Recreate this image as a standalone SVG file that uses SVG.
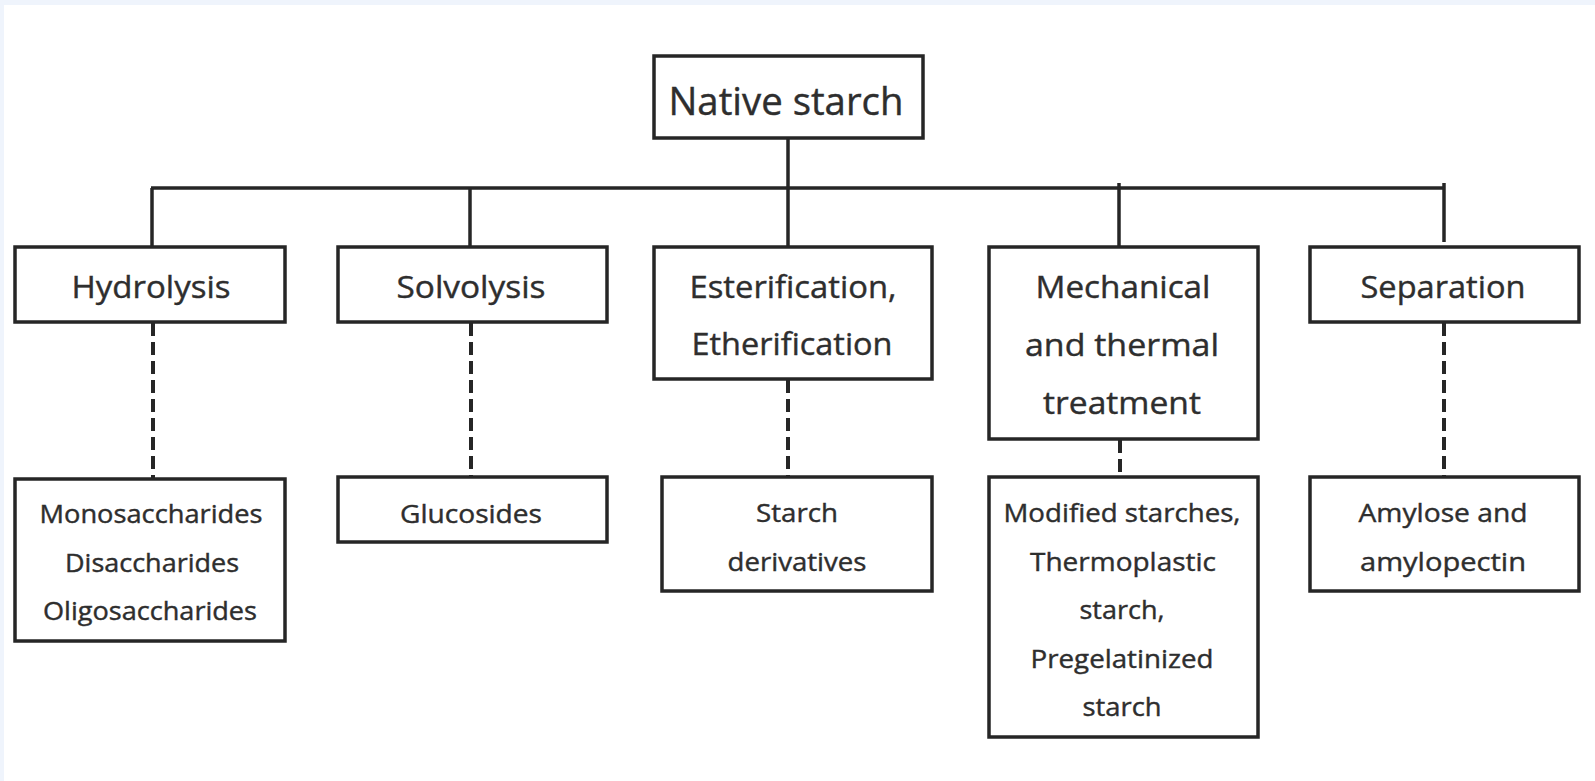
<svg xmlns="http://www.w3.org/2000/svg" width="1595" height="781" viewBox="0 0 1595 781">
<style>
.box{fill:#fff;stroke:#262626;stroke-width:3.5}
.ln{fill:none;stroke:#262626;stroke-width:3.5}
.dash{fill:none;stroke:#262626;stroke-width:4;stroke-dasharray:13 6}
text{font-family:"Open Sans","DejaVu Sans",sans-serif;fill:#2e2e2e;stroke:#2e2e2e;stroke-width:0.4;text-anchor:middle}
.t1{font-size:38px}
.t2{font-size:31px}
.t3{font-size:25px}
</style>
<rect x="0" y="0" width="1595" height="781" fill="#eff4fc"/>
<rect x="4" y="5" width="1591" height="776" fill="#fff"/>
<g id="connectors">
<path class="ln" d="M788,138 V247"/>
<path class="ln" d="M151,188 H1445"/>
<path class="ln" d="M152,188 V247"/>
<path class="ln" d="M470,188 V247"/>
<path class="ln" d="M1119,183 V247"/>
<path class="ln" d="M1444,183 V242"/>
<path class="dash" d="M153,323 V478"/>
<path class="dash" d="M471,323 V476"/>
<path class="dash" d="M788,380 V476"/>
<path class="dash" d="M1120,440 V476"/>
<path class="dash" d="M1444,323 V476"/>
</g>
<g id="native-starch">
<rect class="box" x="654" y="56" width="269" height="82"/>
<text class="t1" x="786" y="115" textLength="235" lengthAdjust="spacingAndGlyphs">Native starch</text>
</g>
<g id="hydrolysis">
<rect class="box" x="15" y="247" width="270" height="75"/>
<text class="t2" x="151" y="298" textLength="159" lengthAdjust="spacingAndGlyphs">Hydrolysis</text>
</g>
<g id="solvolysis">
<rect class="box" x="338" y="247" width="269" height="75"/>
<text class="t2" x="471" y="298" textLength="149" lengthAdjust="spacingAndGlyphs">Solvolysis</text>
</g>
<g id="esterification">
<rect class="box" x="654" y="247" width="278" height="132"/>
<text class="t2" x="793" y="298" textLength="207" lengthAdjust="spacingAndGlyphs">Esterification,</text>
<text class="t2" x="792" y="355" textLength="201" lengthAdjust="spacingAndGlyphs">Etherification</text>
</g>
<g id="mechanical">
<rect class="box" x="989" y="247" width="269" height="192"/>
<text class="t2" x="1123" y="298" textLength="175" lengthAdjust="spacingAndGlyphs">Mechanical</text>
<text class="t2" x="1122" y="356" textLength="194" lengthAdjust="spacingAndGlyphs">and thermal</text>
<text class="t2" x="1122" y="414" textLength="158" lengthAdjust="spacingAndGlyphs">treatment</text>
</g>
<g id="separation">
<rect class="box" x="1310" y="247" width="269" height="75"/>
<text class="t2" x="1443" y="298" textLength="165" lengthAdjust="spacingAndGlyphs">Separation</text>
</g>
<g id="saccharides">
<rect class="box" x="15" y="479" width="270" height="162"/>
<text class="t3" x="151" y="523" textLength="223" lengthAdjust="spacingAndGlyphs">Monosaccharides</text>
<text class="t3" x="152" y="572" textLength="174" lengthAdjust="spacingAndGlyphs">Disaccharides</text>
<text class="t3" x="150" y="620" textLength="214" lengthAdjust="spacingAndGlyphs">Oligosaccharides</text>
</g>
<g id="glucosides">
<rect class="box" x="338" y="477" width="269" height="65"/>
<text class="t3" x="471" y="523" textLength="142" lengthAdjust="spacingAndGlyphs">Glucosides</text>
</g>
<g id="starch-derivatives">
<rect class="box" x="662" y="477" width="270" height="114"/>
<text class="t3" x="797" y="522" textLength="82" lengthAdjust="spacingAndGlyphs">Starch</text>
<text class="t3" x="797" y="571" textLength="139" lengthAdjust="spacingAndGlyphs">derivatives</text>
</g>
<g id="modified-starches">
<rect class="box" x="989" y="477" width="269" height="260"/>
<text class="t3" x="1122" y="522" textLength="237" lengthAdjust="spacingAndGlyphs">Modified starches,</text>
<text class="t3" x="1123" y="571" textLength="186" lengthAdjust="spacingAndGlyphs">Thermoplastic</text>
<text class="t3" x="1122" y="619" textLength="85" lengthAdjust="spacingAndGlyphs">starch,</text>
<text class="t3" x="1122" y="668" textLength="183" lengthAdjust="spacingAndGlyphs">Pregelatinized</text>
<text class="t3" x="1122" y="716" textLength="79" lengthAdjust="spacingAndGlyphs">starch</text>
</g>
<g id="amylose">
<rect class="box" x="1310" y="477" width="269" height="114"/>
<text class="t3" x="1443" y="522" textLength="169" lengthAdjust="spacingAndGlyphs">Amylose and</text>
<text class="t3" x="1443" y="571" textLength="166" lengthAdjust="spacingAndGlyphs">amylopectin</text>
</g>
</svg>
